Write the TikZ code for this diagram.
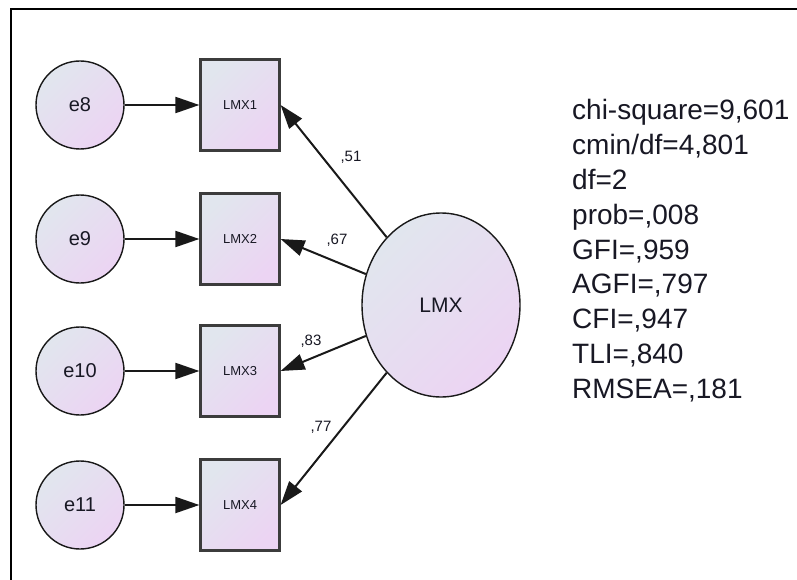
\documentclass[tikz,border=0pt]{standalone}
\usepackage{fontspec}
\setmainfont{Liberation Sans}
\usetikzlibrary{arrows.meta,shapes.geometric}

\definecolor{fillA}{RGB}{225,230,238}
\definecolor{fillB}{RGB}{236,212,243}
\definecolor{ink}{RGB}{24,24,36}
\definecolor{edge}{RGB}{25,25,25}

\tikzset{
  shade/.style={top color=fillA, bottom color=fillB, shading angle=45},
  errvar/.style={circle, shade, draw=edge, line width=1.4pt, minimum size=88pt,
    inner sep=0pt, font=\fontsize{20}{22}\selectfont, text=ink},
  obsvar/.style={rectangle, shade, draw=edge!85, line width=2.2pt, minimum width=79pt,
    minimum height=91pt, inner sep=0pt, font=\fontsize{13}{14}\selectfont, text=ink},
  latvar/.style={ellipse, shade, draw=edge, line width=1.4pt, minimum width=158pt,
    minimum height=184pt, inner sep=0pt, font=\fontsize{21}{24}\selectfont, text=ink},
  path/.style={draw=edge, line width=2pt, -{Triangle[length=24pt,width=16pt]}},
  coef/.style={font=\fontsize{15}{16}\selectfont, text=ink, inner sep=0pt},
  stat/.style={anchor=base west, font=\fontsize{28}{30}\selectfont, text=ink, inner sep=0pt},
}

\begin{document}
\begin{tikzpicture}[x=1pt, y=-1pt]
\useasboundingbox (0,0) rectangle (797,580);
\fill[white] (0,0) rectangle (797,580);

% frame
\draw[line width=2pt, black] (11,580) -- (11,9) -- (797,9);

% error terms
\node[errvar] (e8)  at (80,105) {e8};
\node[errvar] (e9)  at (80,239) {e9};
\node[errvar] (e10) at (80,371) {e10};
\node[errvar] (e11) at (80,505) {e11};

% indicators
\node[obsvar] (x1) at (240,105) {LMX1};
\node[obsvar] (x2) at (240,239) {LMX2};
\node[obsvar] (x3) at (240,371) {LMX3};
\node[obsvar] (x4) at (240,505) {LMX4};

% latent factor
\node[latvar] (lmx) at (441,305) {LMX};

% error paths
\draw[path] (e8)  -- (x1);
\draw[path] (e9)  -- (x2);
\draw[path] (e10) -- (x3);
\draw[path] (e11) -- (x4);

% loadings
\draw[path] (lmx) -- (x1.east);
\draw[path] (lmx) -- (x2.east);
\draw[path] (lmx) -- (x3.east);
\draw[path] (lmx) -- (x4.east);

\node[coef] (c1) at (351,157) {,51};
\node[coef] (c2) at (337,240) {,67};
\node[coef] (c3) at (311,341) {,83};
\node[coef] (c4) at (321,427) {,77};

% fit statistics
\foreach \t [count=\i from 0] in {chi-square=9{,}601, cmin/df=4{,}801, df=2,
    prob={,}008, GFI={,}959, AGFI={,}797, CFI={,}947, TLI={,}840, RMSEA={,}181}
  \node[stat] (s\i) at (572,120+34.75*\i) {\t};
\end{tikzpicture}
\end{document}
